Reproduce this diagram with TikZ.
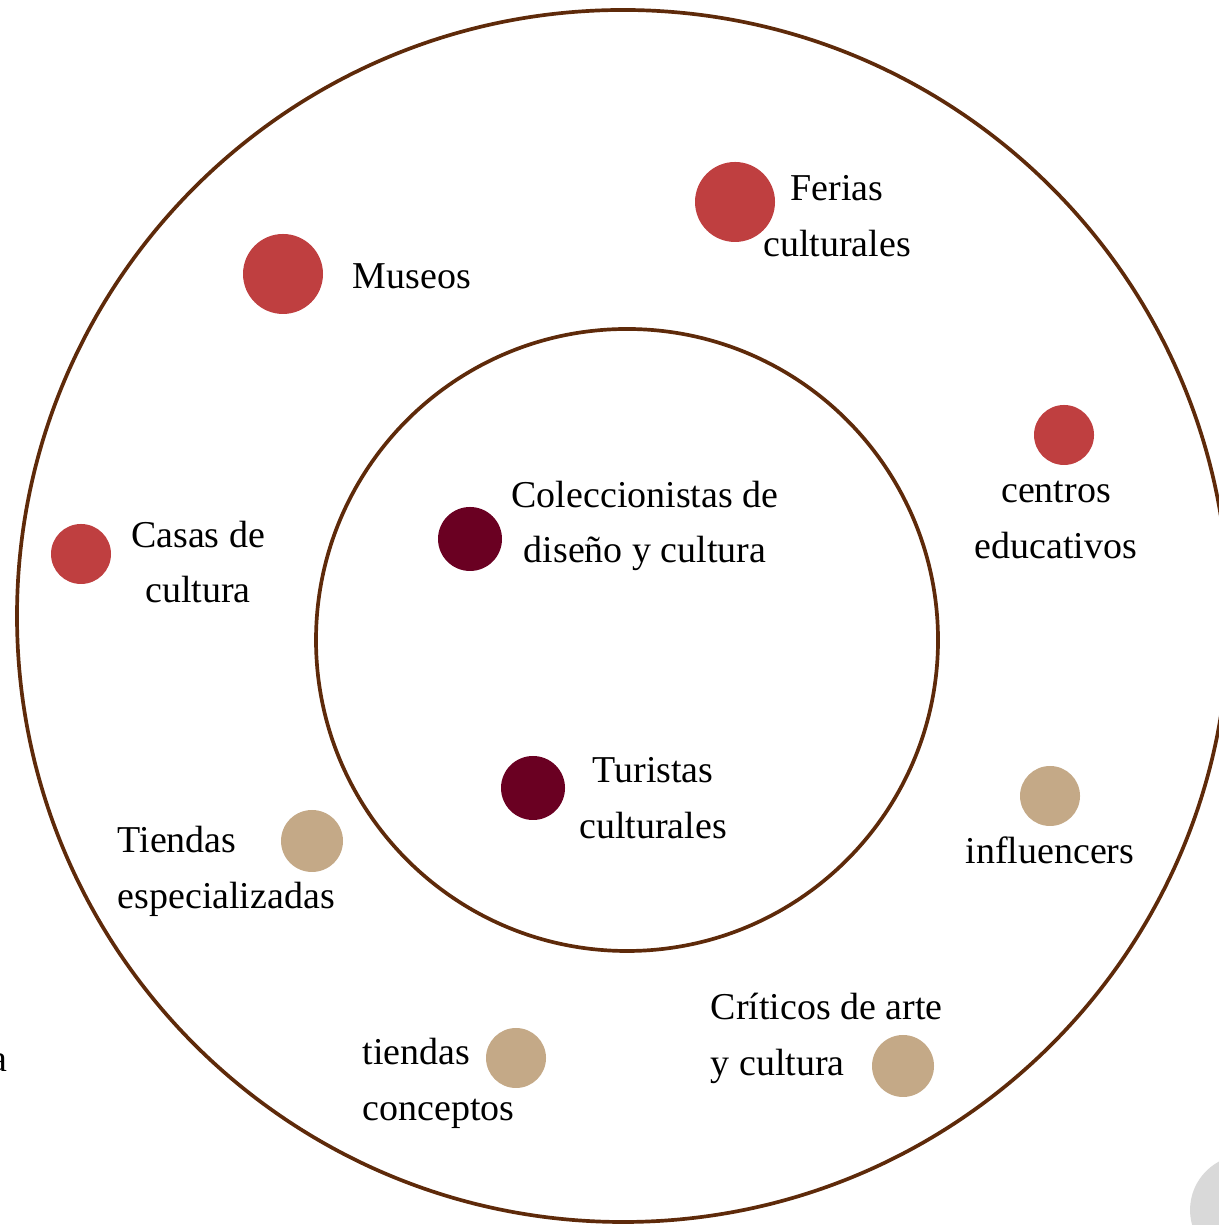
\documentclass[tikz,border=0pt]{standalone}
\usepackage{fontspec}
\setmainfont{Liberation Serif}
\usetikzlibrary{positioning}

\definecolor{ringbrown}{HTML}{5E2A0A}
\definecolor{dotred}{HTML}{BF3F40}
\definecolor{dotwine}{HTML}{6A0022}
\definecolor{dottan}{HTML}{C4A987}
\definecolor{dotgray}{HTML}{D9D9D9}

\begin{document}
\begin{tikzpicture}[
        ring/.style={
            draw=ringbrown,
            line width=1.05pt
        },
        dot/.style={
            circle,
            inner sep=0pt,
            draw=none
        },
        red_dot/.style={dot, fill=dotred},
        wine_dot/.style={dot, fill=dotwine},
        tan_dot/.style={dot, fill=dottan},
        label_text/.style={
            font=\fontsize{10.8}{15.9}\selectfont,
            inner sep=0pt,
            align=center
        },
        left_text/.style={label_text, align=left, anchor=west}
    ]

    % Canvas
    \useasboundingbox (0, 0) rectangle (12.18, 12.25);

    % =================================================
    % RINGS
    % =================================================
    \node[ring, circle, minimum size=12.12cm, inner sep=0pt] (OuterRing) at (6.23, 6.09) {};
    \node[ring, circle, minimum size=6.22cm, inner sep=0pt] (InnerRing) at (6.27, 5.85) {};

    % =================================================
    % INNER RING (core audience)
    % =================================================
    \node[wine_dot, minimum size=0.64cm] (d_Colecc) at (4.70, 6.86) {};
    \node[label_text] (t_Colecc) at (6.45, 6.99) {Coleccionistas de\\diseño y cultura};

    \node[wine_dot, minimum size=0.64cm] (d_Turistas) at (5.33, 4.37) {};
    \node[label_text] (t_Turistas) at (6.53, 4.27) {Turistas\\culturales};

    % =================================================
    % OUTER RING (institutions)
    % =================================================
    \node[red_dot, minimum size=0.80cm] (d_Museos) at (2.83, 9.51) {};
    \node[left_text] (t_Museos) at (3.52, 9.49) {Museos};

    \node[red_dot, minimum size=0.80cm] (d_Ferias) at (7.35, 10.23) {};
    \node[label_text] (t_Ferias) at (8.37, 10.09) {Ferias\\culturales};

    \node[red_dot, minimum size=0.60cm] (d_Centros) at (10.64, 7.90) {};
    \node[label_text] (t_Centros) at (10.56, 7.05) {centros\\educativos};

    \node[red_dot, minimum size=0.60cm] (d_Casas) at (0.81, 6.71) {};
    \node[label_text] (t_Casas) at (1.98, 6.63) {Casas de\\cultura};

    % =================================================
    % OUTER RING (commerce and media)
    % =================================================
    \node[tan_dot, minimum size=0.62cm] (d_Tiendas) at (3.12, 3.84) {};
    \node[left_text] (t_Tiendas) at (1.17, 3.54) {Tiendas\\especializadas};

    \node[tan_dot, minimum size=0.60cm] (d_Influ) at (10.50, 4.29) {};
    \node[label_text] (t_Influ) at (10.50, 3.75) {influencers};

    \node[tan_dot, minimum size=0.60cm] (d_Conceptos) at (5.16, 1.67) {};
    \node[left_text] (t_Conceptos) at (3.62, 1.42) {tiendas\\conceptos};

    \node[tan_dot, minimum size=0.62cm] (d_Criticos) at (9.03, 1.59) {};
    \node[left_text] (t_Criticos) at (7.10, 1.87) {Críticos de arte\\y cultura};

    % Cut-off bits at the edges
    \node[dot, fill=dotgray, minimum size=1.10cm] (d_Gray) at (12.45, 0.15) {};
    \node[label_text, anchor=base east] (t_Edge) at (0.08, 1.53) {a};

\end{tikzpicture}
\end{document}
